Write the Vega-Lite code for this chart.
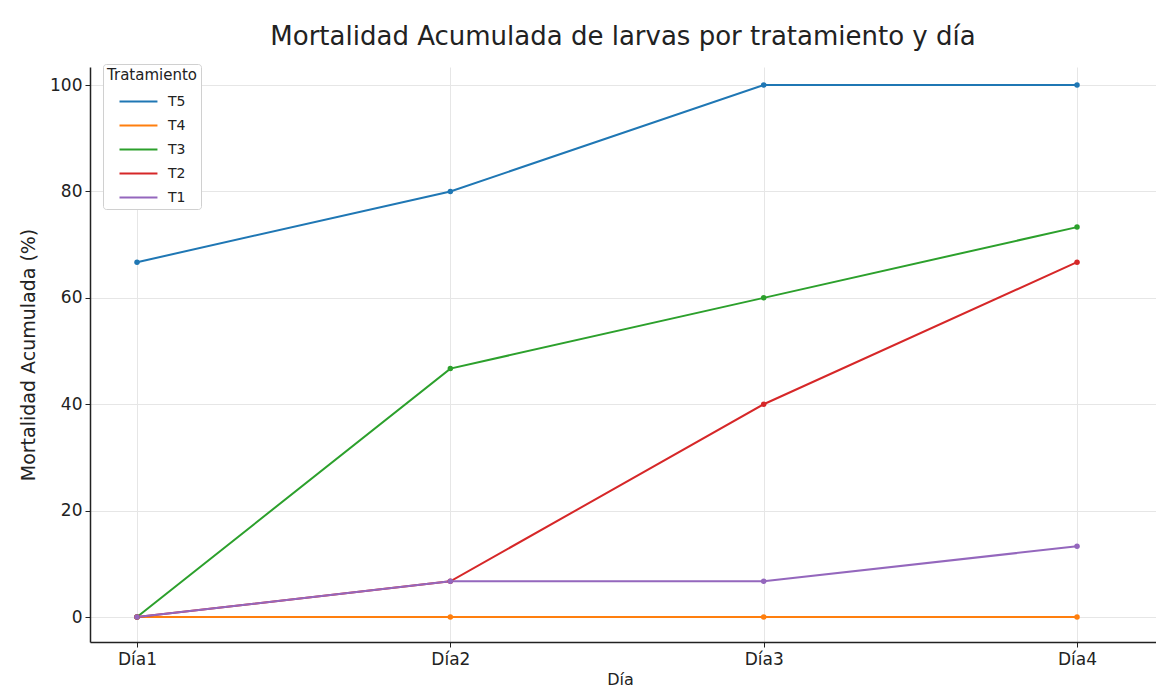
{
  "$schema": "https://vega.github.io/schema/vega-lite/v6.json",
  "autosize": "none",
  "width": 1066,
  "height": 575,
  "padding": {"left": 90, "top": 67, "right": 0, "bottom": 55},
  "background": "white",
  "title": {
    "text": "Mortalidad Acumulada de larvas por tratamiento y día",
    "font": "DejaVu Sans",
    "fontSize": 26,
    "fontWeight": "normal",
    "color": "#222",
    "anchor": "middle",
    "dx": 0,
    "offset": 14
  },
  "data": {
    "values": [
      {"dia": 1, "Tratamiento": "T5", "m": 66.7},
      {"dia": 2, "Tratamiento": "T5", "m": 80},
      {"dia": 3, "Tratamiento": "T5", "m": 100},
      {"dia": 4, "Tratamiento": "T5", "m": 100},
      {"dia": 1, "Tratamiento": "T4", "m": 0},
      {"dia": 2, "Tratamiento": "T4", "m": 0},
      {"dia": 3, "Tratamiento": "T4", "m": 0},
      {"dia": 4, "Tratamiento": "T4", "m": 0},
      {"dia": 1, "Tratamiento": "T3", "m": 0},
      {"dia": 2, "Tratamiento": "T3", "m": 46.7},
      {"dia": 3, "Tratamiento": "T3", "m": 60},
      {"dia": 4, "Tratamiento": "T3", "m": 73.3},
      {"dia": 1, "Tratamiento": "T2", "m": 0},
      {"dia": 2, "Tratamiento": "T2", "m": 6.7},
      {"dia": 3, "Tratamiento": "T2", "m": 40},
      {"dia": 4, "Tratamiento": "T2", "m": 66.7},
      {"dia": 1, "Tratamiento": "T1", "m": 0},
      {"dia": 2, "Tratamiento": "T1", "m": 6.7},
      {"dia": 3, "Tratamiento": "T1", "m": 6.7},
      {"dia": 4, "Tratamiento": "T1", "m": 13.3}
    ]
  },
  "encoding": {
    "x": {
      "field": "dia",
      "type": "quantitative",
      "title": "Día",
      "scale": {"domain": [0.85, 4.252], "nice": false, "zero": false},
      "axis": {
        "values": [1, 2, 3, 4],
        "labelExpr": "'Día' + datum.value",
        "grid": true,
        "titleFontSize": 16,
        "titlePadding": 4,
        "titleX": 530
      }
    },
    "y": {
      "field": "m",
      "type": "quantitative",
      "title": "Mortalidad Acumulada (%)",
      "scale": {"domain": [-4.7, 103.4], "nice": false, "zero": false},
      "axis": {"values": [0, 20, 40, 60, 80, 100], "grid": true, "titleFontSize": 19, "titlePadding": 11, "labelPadding": 3}
    },
    "color": {
      "field": "Tratamiento",
      "type": "nominal",
      "scale": {
        "domain": ["T5", "T4", "T3", "T2", "T1"],
        "range": ["#1f77b4", "#ff7f0e", "#2ca02c", "#d62728", "#9467bd"]
      },
      "legend": {
        "orient": "none",
        "legendX": 13,
        "legendY": -3,
        "title": "Tratamiento",
        "titleFont": "DejaVu Sans",
        "titleFontSize": 15,
        "titleFontWeight": "normal",
        "titleColor": "#222",
        "titlePadding": 6,
        "labelFont": "DejaVu Sans",
        "labelFontSize": 14,
        "labelColor": "#222",
        "labelOffset": 36,
        "symbolType": "M0,0H3.3",
        "symbolSize": 529,
        "symbolStrokeWidth": 2,
        "rowPadding": 4,
        "padding": 4,
        "strokeColor": "#d0d0d0",
        "fillColor": "white",
        "cornerRadius": 3
      }
    }
  },
  "layer": [
    {"mark": {"type": "line", "strokeWidth": 2}},
    {"mark": {"type": "point", "filled": true, "size": 30, "opacity": 1}}
  ],
  "config": {
    "view": {"stroke": null},
    "axis": {
      "labelFont": "DejaVu Sans",
      "titleFont": "DejaVu Sans",
      "labelFontSize": 17,
      "titleFontSize": 16,
      "titleFontWeight": "normal",
      "labelColor": "#222",
      "titleColor": "#222",
      "domainColor": "#222",
      "domainWidth": 1.5,
      "tickColor": "#222",
      "tickSize": 5,
      "gridColor": "#e6e6e6",
      "gridWidth": 1,
      "labelPadding": 4
    }
  }
}
